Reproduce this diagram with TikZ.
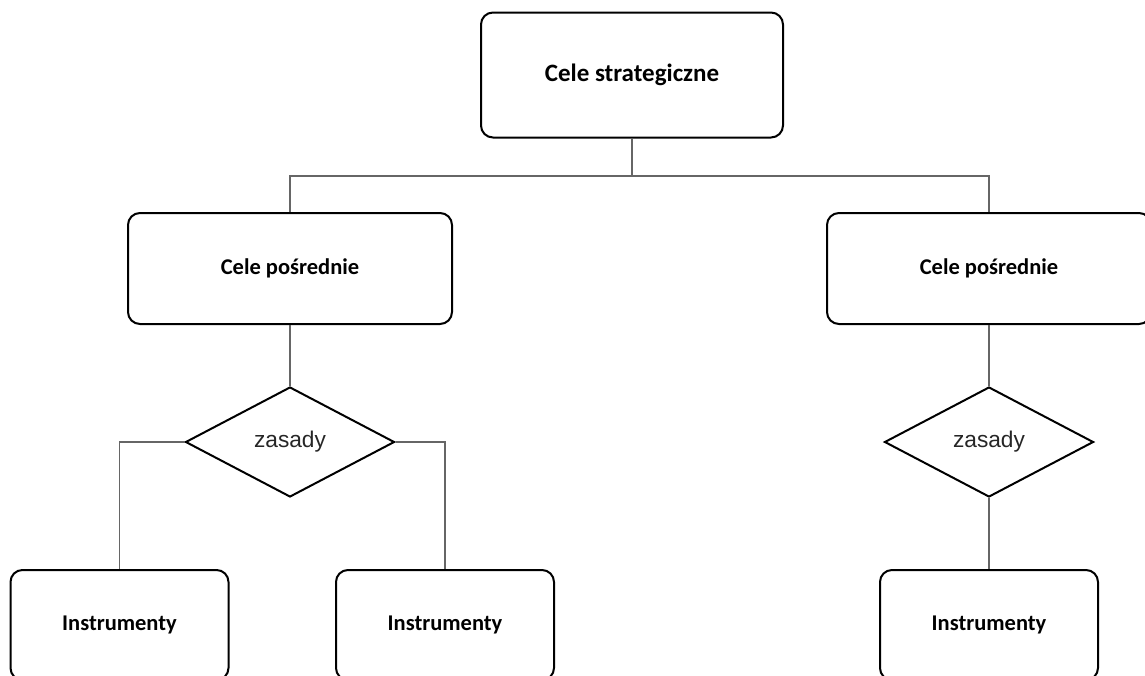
\documentclass[tikz,border=0pt]{standalone}
\usepackage{fontspec}
\setmainfont{Carlito}
\newfontfamily\rulefont{Liberation Sans}
\usepackage{tikz}
\usetikzlibrary{positioning, shapes.geometric}

\tikzset{
  goalbox/.style={draw, line width=2pt, rounded corners=12pt, align=center,
    font=\fontsize{22.5}{27}\selectfont\bfseries},
  rulebox/.style={draw, diamond, line width=2pt, inner sep=0pt,
    minimum width=209pt, minimum height=110pt,
    font=\rulefont\fontsize{22.7}{27}\selectfont, text=black!85},
  link/.style={draw=black!60, line width=1.2pt}
}

\begin{document}
\begin{tikzpicture}[x=1pt, y=-1pt]
\useasboundingbox (0,0) rectangle (1145,675);
\clip (0,0) rectangle (1145,675);
\node[goalbox, minimum width=302pt, minimum height=125pt,
  font=\fontsize{25}{30}\selectfont\bfseries] (top) at (632,75) {Cele strategiczne};
\node[goalbox, minimum width=324pt, minimum height=111pt] (lmid) at (290,268.5) {Cele pośrednie};
\node[goalbox, minimum width=324pt, minimum height=111pt] (rmid) at (989,268.5) {Cele pośrednie};
\node[rulebox, below=61pt of lmid] (ldia) {zasady};
\node[rulebox, below=61pt of rmid] (rdia) {zasady};
\node[goalbox, minimum width=218pt, minimum height=110pt] (linst) at (119.5,625) {Instrumenty};
\node[goalbox, minimum width=218pt, minimum height=110pt] (minst) at (445,625) {Instrumenty};
\node[goalbox, minimum width=218pt, minimum height=110pt] (rinst) at (989,625) {Instrumenty};
\coordinate (split) at (632,176);
\draw[link] (top.south) -- (split);
\draw[link] (lmid.north) |- (split) -| (rmid.north);
\draw[link] (lmid.south) -- (ldia.north);
\draw[link] (ldia.west) -| (linst.north);
\draw[link] (ldia.east) -| (minst.north);
\draw[link] (rmid.south) -- (rdia.north);
\draw[link] (rdia.south) -- (rinst.north);
\end{tikzpicture}
\end{document}
